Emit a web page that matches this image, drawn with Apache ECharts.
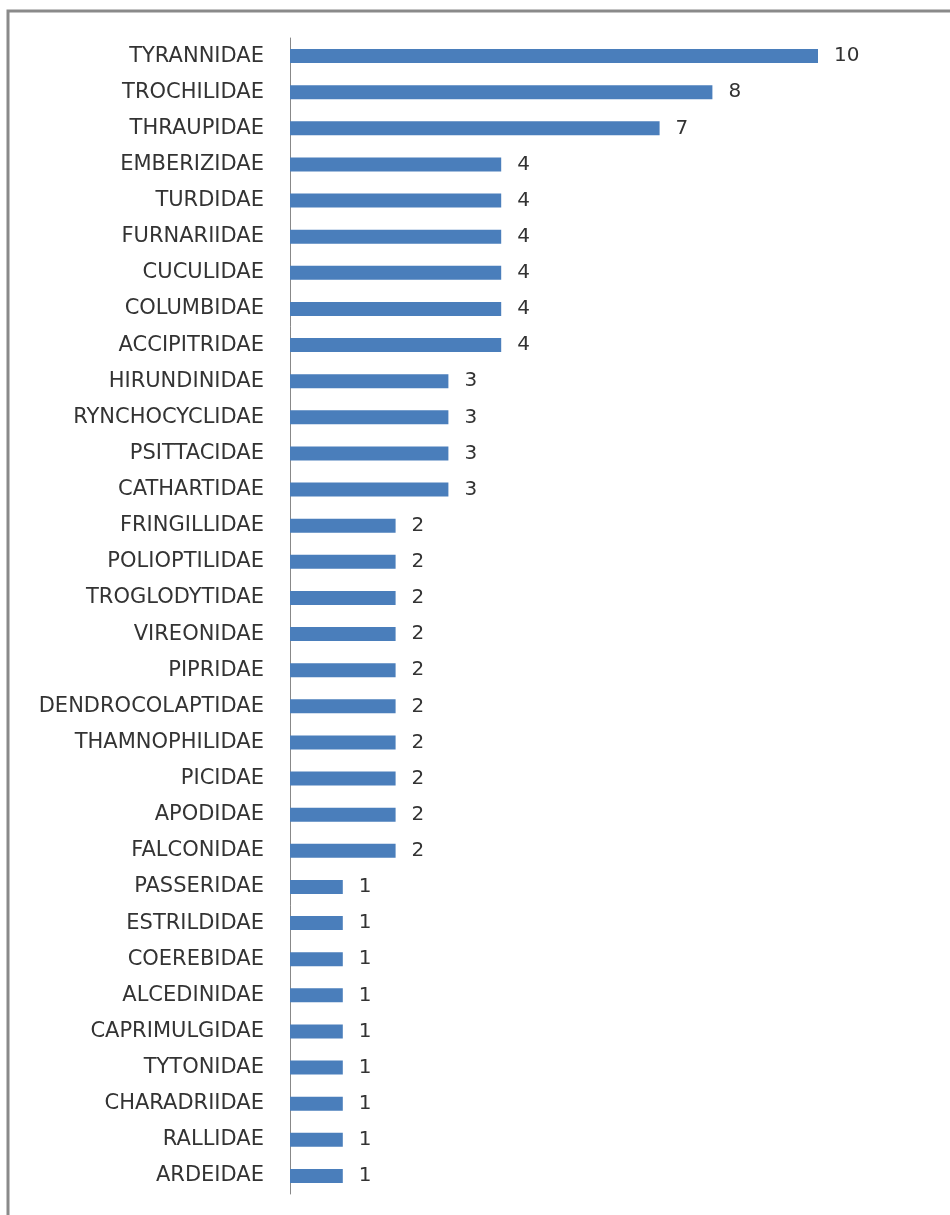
<!DOCTYPE html>
<html><head><meta charset="utf-8">
<script src="https://cdn.jsdelivr.net/npm/echarts@6/dist/echarts.min.js"></script>
<style>html,body{margin:0;padding:0;background:#fff}#c{width:950px;height:1215px}</style>
</head><body><div id="c"></div>
<script>
const families = ["TYRANNIDAE","TROCHILIDAE","THRAUPIDAE","EMBERIZIDAE","TURDIDAE","FURNARIIDAE","CUCULIDAE","COLUMBIDAE","ACCIPITRIDAE","HIRUNDINIDAE","RYNCHOCYCLIDAE","PSITTACIDAE","CATHARTIDAE","FRINGILLIDAE","POLIOPTILIDAE","TROGLODYTIDAE","VIREONIDAE","PIPRIDAE","DENDROCOLAPTIDAE","THAMNOPHILIDAE","PICIDAE","APODIDAE","FALCONIDAE","PASSERIDAE","ESTRILDIDAE","COEREBIDAE","ALCEDINIDAE","CAPRIMULGIDAE","TYTONIDAE","CHARADRIIDAE","RALLIDAE","ARDEIDAE"];
const speciesCount = [10,8,7,4,4,4,4,4,4,3,3,3,3,2,2,2,2,2,2,2,2,2,2,1,1,1,1,1,1,1,1,1];

const chart = echarts.init(document.getElementById('c'), null, {renderer:'canvas'});
chart.setOption({
  animation:false,
  backgroundColor:'#fff',
  graphic:[{type:'rect',shape:{x:8,y:11,width:950,height:1220},style:{fill:'none',stroke:'#8a8a8a',lineWidth:3},silent:true}],
  grid:{left:290,right:132,top:38,bottom:21,containLabel:false},
  xAxis:{type:'value',min:0,max:10,show:false},
  yAxis:{type:'category',inverse:true,data:families,
    axisLine:{lineStyle:{color:'#888',width:1}},
    axisTick:{show:false},
    axisLabel:{color:'#333',fontFamily:'DejaVu Sans, sans-serif',fontSize:21,margin:26,padding:[4,0,0,0]}},
  series:[{type:'bar',data:speciesCount,barWidth:14,
    itemStyle:{color:'#4a7ebb'},
    label:{show:true,position:'right',distance:16,color:'#333',fontFamily:'DejaVu Sans, sans-serif',fontSize:20,padding:[4,0,0,0]}}]
});
</script></body></html>
